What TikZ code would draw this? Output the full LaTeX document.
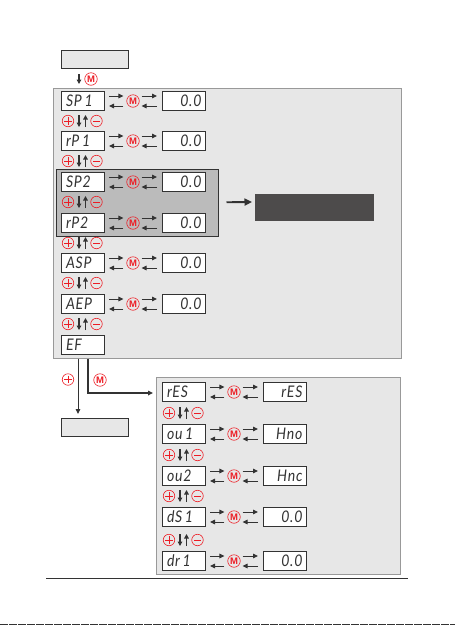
\documentclass[tikz,border=0pt]{standalone}
\usepackage{fontspec}
\setmainfont{Liberation Sans}
\newfontfamily\segfont[ItalicFont=* Italic,FakeStretch=0.88,LetterSpace=5]{Lato}
\usetikzlibrary{arrows.meta,calc}
\definecolor{ink}{HTML}{333333}
\definecolor{panel}{HTML}{E7E7E7}
\definecolor{panelline}{HTML}{999999}
\definecolor{midgrey}{HTML}{BBBBBB}
\definecolor{darkbox}{HTML}{4D4B4B}
\definecolor{keyred}{HTML}{ED1C24}
\tikzset{
  x=1pt,y=-1pt,
  panelbox/.style={draw=panelline,fill=panel,line width=1pt},
  greybox/.style={draw=ink,fill=panel,line width=0.9pt},
  dispL/.style={draw=ink,fill=white,line width=0.9pt,minimum width=43pt,minimum height=18.5pt,inner sep=0pt,outer sep=0pt,
    text=ink,font=\segfont\itshape\fontsize{16}{16}\selectfont,align=left,text width=36pt},
  dispR/.style={dispL,align=right},
  keyM/.style={circle,draw=keyred,line width=0.6pt,minimum size=12.5pt,inner sep=0pt,text=keyred,font=\bfseries\fontsize{9.5}{9.5}\selectfont},
  keyP/.style={circle,draw=keyred,line width=0.6pt,minimum size=11.5pt,inner sep=0pt},
  sign/.style={draw=keyred,line width=0.8pt},
  flow/.style={draw=ink,line width=1pt,-{Triangle[length=5pt,width=4.6pt]}},
  updown/.style={draw=ink,line width=1.1pt,-{Triangle[length=4.5pt,width=4.6pt]}},
}
% row: name, left x of the row, y, left text, right x, right text
\newcommand{\disprow}[6]{%
  \node[dispL,anchor=west] (#1l) at (#2,#3) {\hspace*{1.5pt}#4};
  \node[keyM] (#1m) at (#2+72,#3) {M};
  \node[dispR,anchor=west] (#1r) at (#5,#3) {#6};
  \draw[flow] ($(#1l.east)+(5,-5)$) -- ($(#1m.west)+(-3,-5)$);
  \draw[flow] ($(#1m.west)+(-3,5)$) -- ($(#1l.east)+(5,5)$);
  \draw[flow] ($(#1m.east)+(2,-5)$) -- ($(#1r.west)+(-5,-5)$);
  \draw[flow] ($(#1r.west)+(-5,5)$) -- ($(#1m.east)+(2,5)$);
}
% plus key and minus key: node name, position
\newcommand{\pluskey}[2]{%
  \node[keyP] (#1) at #2 {};
  \draw[sign] ($(#1)+(-3.8,0)$) -- ($(#1)+(3.8,0)$);
  \draw[sign] ($(#1)+(0,-3.8)$) -- ($(#1)+(0,3.8)$);
}
\newcommand{\minuskey}[2]{%
  \node[keyP] (#1) at #2 {};
  \draw[sign] ($(#1)+(-3.5,0)$) -- ($(#1)+(3.5,0)$);
}
% keys row: name, x of plus, y
\newcommand{\keyrow}[3]{%
  \pluskey{#1p}{(#2,#3)}
  \minuskey{#1n}{(#2+28.5,#3)}
  \coordinate (#1a) at (#2+11,#3-6);
  \coordinate (#1b) at (#2+11,#3+6);
  \coordinate (#1c) at (#2+17.5,#3+6);
  \coordinate (#1d) at (#2+17.5,#3-6);
  \draw[updown] (#1a) -- (#1b);
  \draw[updown] (#1c) -- (#1d);
}
\begin{document}
\begin{tikzpicture}
\useasboundingbox (0,0) rectangle (455,625);
\fill[white] (0,0) rectangle (455,625);

% top box
\node[greybox,minimum width=67pt,minimum height=18pt,inner sep=0pt,outer sep=0pt,anchor=north west] (top) at (61,50) {};
\coordinate (tarr1) at (79,74);
\coordinate (tarr2) at (79,84);
\draw[updown] (tarr1) -- (tarr2);
\node[keyM] (topm) at (91,79) {M};

% main panel
\node[panelbox,minimum width=348pt,minimum height=270pt,inner sep=0pt,outer sep=0pt,anchor=north west] (main) at (53,88) {};
\node[draw=ink,fill=midgrey,line width=0.9pt,minimum width=162pt,minimum height=66.5pt,inner sep=0pt,outer sep=0pt,anchor=north west] (grp) at (56.5,169.5) {};

\disprow{a}{61}{101}{SP\,1}{162}{0.0}
\keyrow{ka}{68}{121}
\disprow{b}{61}{141}{rP\,1}{162}{0.0}
\keyrow{kb}{68}{161}
\disprow{c}{61}{182}{SP2}{162}{0.0}
\keyrow{kc}{68}{202}
\disprow{d}{61}{223}{rP2}{162}{0.0}
\keyrow{kd}{68}{243}
\disprow{e}{61}{263}{ASP}{162}{0.0}
\keyrow{ke}{68}{283}
\disprow{f}{61}{304}{AEP}{162}{0.0}
\keyrow{kf}{68}{324}
\node[dispL,anchor=west] (g) at (61,345) {\hspace*{1.5pt}EF};

% dark box
\node[fill=darkbox,minimum width=119pt,minimum height=27pt,inner sep=0pt,outer sep=0pt,anchor=north west] (dark) at (255,194) {};
\draw[draw=ink,line width=1.9pt,-{Triangle[length=7.5pt,width=7pt]}] ($(grp.east)+(8,-0.5)$) -- ($(dark.west)+(-3,-5.5)$);

% exit box
\node[greybox,minimum width=67pt,minimum height=18pt,inner sep=0pt,outer sep=0pt,anchor=north west] (exit) at (61,418) {};
\coordinate (s1) at (78,358.5);
\coordinate (e1) at (78,414);
\draw[flow] (s1) -- (e1);
\pluskey{plus}{(68,379.5)}

% second panel
\node[panelbox,minimum width=244pt,minimum height=196.5pt,inner sep=0pt,outer sep=0pt,anchor=north west] (sub) at (156.5,377.5) {};
\coordinate (s2) at (88,358.5);
\coordinate (c2) at (88,393);
\coordinate (e2) at (153,393);
\draw[flow,line width=1.3pt] (s2) -- (c2) -- (e2);
\node[keyM] (subm) at (100,380) {M};

\disprow{h}{162}{392}{rES}{263}{rES}
\keyrow{kh}{169}{413}
\disprow{i}{162}{434}{ou\,1}{263}{Hno}
\keyrow{ki}{169}{455}
\disprow{j}{162}{476}{ou2}{263}{Hnc}
\keyrow{kj}{169}{496}
\disprow{k}{162}{517}{dS\,1}{263}{0.0}
\keyrow{kk}{169}{540}
\disprow{l}{162}{561}{dr\,1}{263}{0.0}

% page rules
\coordinate (r1) at (46,578.5);
\coordinate (r2) at (408,578.5);
\draw[ink,line width=0.9pt] (r1) -- (r2);
\coordinate (b1) at (0,624.6);
\coordinate (b2) at (455,624.6);
\draw[ink,line width=0.8pt,dash pattern=on 8pt off 1pt] (b1) -- (b2);
\end{tikzpicture}
\end{document}
